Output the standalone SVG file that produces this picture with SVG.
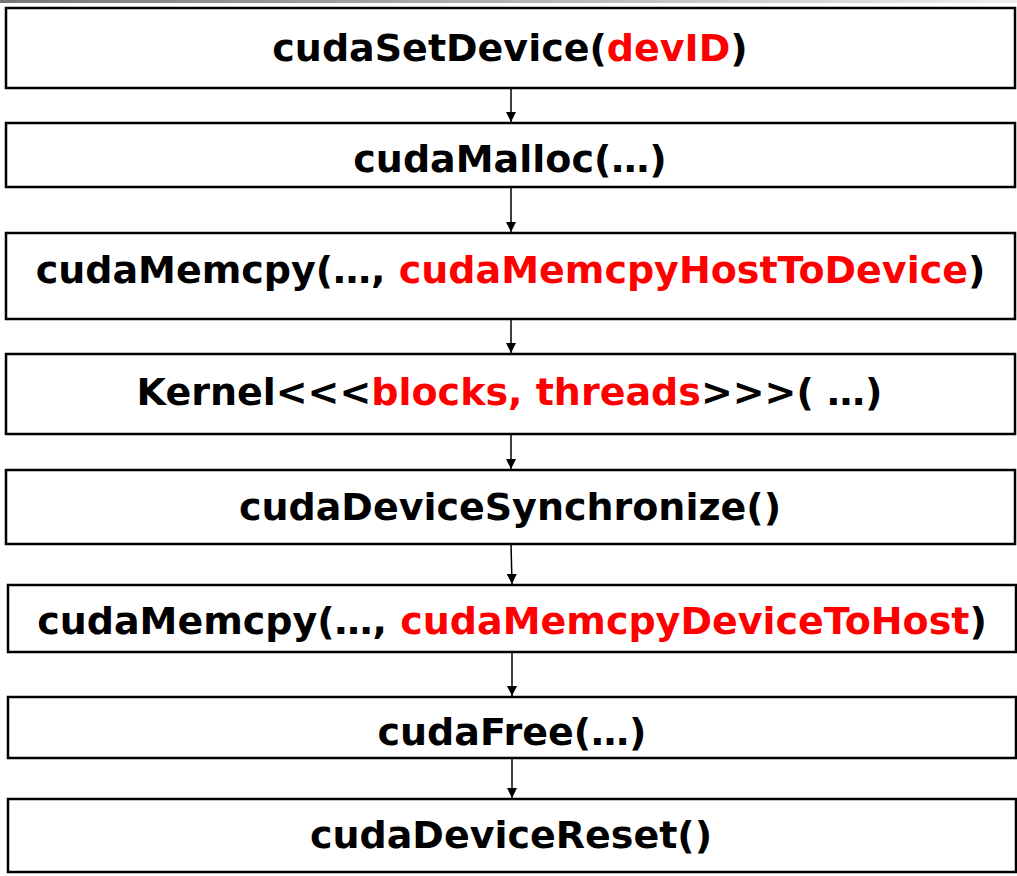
<svg xmlns="http://www.w3.org/2000/svg" width="1017" height="876" viewBox="0 0 1017 876">
<defs>
<linearGradient id="topbar" x1="0" y1="0" x2="1" y2="0">
<stop offset="0" stop-color="#777"/>
<stop offset="1" stop-color="#eee"/>
</linearGradient>
<marker id="ah" markerWidth="10" markerHeight="10" refX="10" refY="5" orient="auto" markerUnits="userSpaceOnUse">
<path d="M0,0 L10,5 L0,10 Z" fill="#000"/>
</marker>
</defs>
<style>
.box{fill:#fff;stroke:#000;stroke-width:2.5}
.t{font-family:"DejaVu Sans",Verdana,sans-serif;font-weight:bold;font-size:38px;fill:#000;text-anchor:middle}
.r{fill:#ff0000}
.c{stroke:#000;stroke-width:1.5;fill:none;marker-end:url(#ah)}
</style>
<rect x="0" y="0" width="1017" height="3" fill="url(#topbar)"/>
<g id="connectors">
<line class="c" x1="511" y1="89" x2="511" y2="122"/>
<line class="c" x1="511" y1="187" x2="511" y2="232"/>
<line class="c" x1="511" y1="319" x2="511" y2="353"/>
<line class="c" x1="511" y1="434" x2="511" y2="469"/>
<line class="c" x1="511" y1="544" x2="512" y2="584"/>
<line class="c" x1="512" y1="652" x2="512" y2="696"/>
<line class="c" x1="512" y1="758" x2="512" y2="798"/>
</g>
<g id="n1"><rect class="box" x="6" y="8" width="1009" height="80"/>
<text class="t" x="510" y="61">cudaSetDevice(<tspan class="r">devID</tspan>)</text></g>
<g id="n2"><rect class="box" x="6" y="123" width="1009" height="64"/>
<text class="t" x="510" y="172">cudaMalloc(…)</text></g>
<g id="n3"><rect class="box" x="6" y="233" width="1009" height="86"/>
<text class="t" x="510.5" y="283">cudaMemcpy(…, <tspan class="r">cudaMemcpyHostToDevice</tspan>)</text></g>
<g id="n4"><rect class="box" x="6" y="354" width="1009" height="80"/>
<text class="t" x="509.5" y="405">Kernel&lt;&lt;&lt;<tspan class="r">blocks, threads</tspan>&gt;&gt;&gt;( …)</text></g>
<g id="n5"><rect class="box" x="6" y="470" width="1009" height="74"/>
<text class="t" x="510" y="520">cudaDeviceSynchronize()</text></g>
<g id="n6"><rect class="box" x="8" y="585" width="1008" height="67"/>
<text class="t" x="512" y="634">cudaMemcpy(…, <tspan class="r">cudaMemcpyDeviceToHost</tspan>)</text></g>
<g id="n7"><rect class="box" x="8" y="697" width="1008" height="61"/>
<text class="t" x="512" y="745">cudaFree(…)</text></g>
<g id="n8"><rect class="box" x="8" y="799" width="1008" height="73"/>
<text class="t" x="511" y="848">cudaDeviceReset()</text></g>
</svg>
